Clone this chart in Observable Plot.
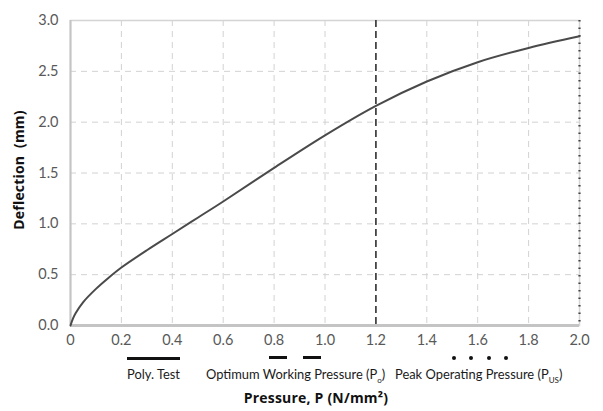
<!DOCTYPE html>
<html>
<head>
<meta charset="utf-8">
<script src="https://cdn.jsdelivr.net/npm/d3@7"></script>
<script src="https://cdn.jsdelivr.net/npm/@observablehq/plot@0.6"></script>
<style>
  html, body { margin: 0; padding: 0; background: #fff; }
  #wrap { position: relative; width: 603px; height: 411px; overflow: hidden; font-family: "Open Sans", sans-serif; }
  .lbl { position: absolute; font-family: Lato, sans-serif; font-size: 12.9px; color: #1a1a1a; white-space: nowrap; }
  .ttl { position: absolute; font-size: 14px; font-weight: bold; color: #111; white-space: nowrap; letter-spacing: 0.2px; }
  .seg { position: absolute; height: 3px; background: #111; }
  .dot { position: absolute; width: 4px; height: 4px; border-radius: 50%; background: #111; }
  sub { font-size: 8px; }
</style>
</head>
<body>
<div id="wrap"></div>
<script>
// Poly. Test curve: pressure P (N/mm²) vs deflection (mm)
const pressure   = [0, 0.01, 0.02, 0.05, 0.10, 0.15, 0.20, 0.30, 0.40, 0.50, 0.60, 0.80, 1.00, 1.20, 1.40, 1.60, 1.80, 2.00];
const deflection = [0, 0.07, 0.12, 0.23, 0.36, 0.47, 0.57, 0.74, 0.90, 1.06, 1.22, 1.55, 1.87, 2.16, 2.40, 2.59, 2.73, 2.845];
const optimumPressure = [1.2];
const peakPressure = [2.0];
const xTicks = [0, 0.2, 0.4, 0.6, 0.8, 1.0, 1.2, 1.4, 1.6, 1.8, 2.0];
const yTicks = [0, 0.5, 1.0, 1.5, 2.0, 2.5, 3.0];

const data = pressure.map((p, i) => ({p, d: deflection[i]}));

const chart = Plot.plot({
  width: 603,
  height: 411,
  marginLeft: 70,
  marginRight: 24,
  marginTop: 20,
  marginBottom: 86,
  style: {fontFamily: "Lato, sans-serif", fontSize: "14.5px", color: "#595959", background: "#fff"},
  x: {domain: [0, 2], ticks: xTicks, tickSize: 0, tickPadding: 9, tickFormat: d => d === 0 ? "0" : d.toFixed(1), label: null},
  y: {domain: [0, 3], ticks: yTicks, tickSize: 0, tickPadding: 12, tickFormat: d => d.toFixed(1), label: null},
  marks: [
    Plot.gridX(xTicks.filter(d => d > 0 && d < 2), {stroke: "#d2d2d2", strokeOpacity: 1, strokeDasharray: "6,5"}),
    Plot.gridY(yTicks.filter(d => d > 0 && d < 3), {stroke: "#d2d2d2", strokeOpacity: 1, strokeDasharray: "6,5"}),
    Plot.frame({stroke: "#d4d4d4", strokeWidth: 1.5}),
    Plot.ruleX([0], {stroke: "#c4c4c4", strokeWidth: 2}),
    Plot.ruleY([0], {stroke: "#c4c4c4", strokeWidth: 3}),
    Plot.ruleX(optimumPressure, {stroke: "#333", strokeWidth: 1.6, strokeDasharray: "7,4"}),
    Plot.ruleX(peakPressure, {stroke: "#444", strokeWidth: 2.2, strokeDasharray: "1.5,6"}),
    Plot.line(data, {x: "p", y: "d", stroke: "#4a4a4a", strokeWidth: 2, curve: "catmull-rom"})
  ]
});
const wrap = document.getElementById("wrap");
wrap.appendChild(chart);

const overlay = `
  <div class="seg" style="left:127px;top:357px;width:53px;"></div>
  <div class="lbl" style="left:127px;top:366px;">Poly. Test</div>
  <div class="seg" style="left:269px;top:356px;width:18px;"></div>
  <div class="seg" style="left:303px;top:356px;width:18px;"></div>
  <div class="lbl" style="left:206px;top:366px;">Optimum Working Pressure (P<sub>o</sub>)</div>
  <div class="dot" style="left:452px;top:356px;"></div>
  <div class="dot" style="left:469px;top:356px;"></div>
  <div class="dot" style="left:487px;top:356px;"></div>
  <div class="dot" style="left:504px;top:356px;"></div>
  <div class="lbl" style="left:395px;top:366px;">Peak Operating Pressure (P<sub>US</sub>)</div>
  <div class="ttl" style="left:316px;top:397px;transform:translate(-50%,-50%);">Pressure, P (N/mm²)</div>
  <div class="ttl" style="left:18px;top:170px;transform:translate(-50%,-50%) rotate(-90deg);">Deflection&nbsp; (mm)</div>
`;
wrap.insertAdjacentHTML("beforeend", overlay);
</script>
</body>
</html>
